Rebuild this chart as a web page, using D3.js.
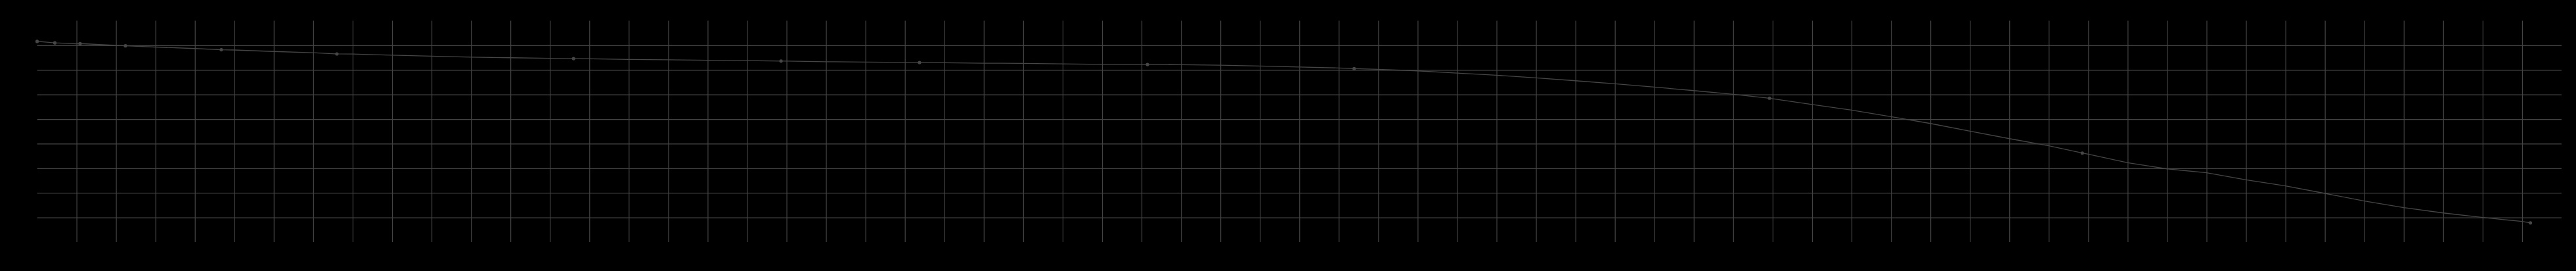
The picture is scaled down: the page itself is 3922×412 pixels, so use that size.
<!DOCTYPE html>
<html>
<head>
<meta charset="utf-8">
<script src="https://cdn.jsdelivr.net/npm/d3@7/dist/d3.min.js"></script>
<style>
  html, body { margin: 0; padding: 0; background: #000; }
  svg { display: block; }
</style>
</head>
<body>
<svg id="chart" width="3922" height="412"></svg>
<script>
// Series values (x in grid units, y in grid units)
const xValues = [0, 0.45, 0.99, 1.09, 1.99, 2.24, 2.99, 3.99, 4.67, 4.99, 5.99, 6.99, 7.6, 8.0, 8.98, 10, 11, 12, 13, 13.6, 14, 15, 16, 17, 18, 18.86, 19, 20, 21, 22, 22.37, 23, 24, 25, 26, 27, 28, 28.15, 29, 30, 31, 32, 33, 33.39, 34, 35, 36, 37, 38, 39, 40, 41, 42, 43, 43.92, 44, 45, 46, 47, 48, 49, 50, 51, 51.85, 52, 53, 54, 55, 56, 57, 58, 59, 60, 61, 62, 63, 63.21];
const yValues = [8.16, 8.10, 8.06, 8.07, 8.00, 7.98, 7.93, 7.87, 7.82, 7.81, 7.75, 7.70, 7.65, 7.645, 7.60, 7.56, 7.52, 7.495, 7.47, 7.46, 7.45, 7.425, 7.414, 7.39, 7.38, 7.36, 7.36, 7.334, 7.318, 7.307, 7.30, 7.292, 7.273, 7.265, 7.246, 7.227, 7.219, 7.219, 7.211, 7.193, 7.158, 7.12, 7.078, 7.051, 7.024, 6.96, 6.872, 6.783, 6.676, 6.559, 6.436, 6.302, 6.158, 6.008, 5.85, 5.829, 5.596, 5.366, 5.099, 4.821, 4.511, 4.206, 3.912, 3.618, 3.575, 3.227, 2.976, 2.816, 2.532, 2.281, 1.979, 1.666, 1.398, 1.184, 0.997, 0.837, 0.78];
// indices of points drawn with a circle marker
const markerIdx = [0, 1, 3, 5, 8, 12, 19, 25, 30, 37, 43, 54, 63, 76];
// grid tick values
const xTicks = d3.range(1, 64);
const yTicks = d3.range(1, 9);

const svg = d3.select("#chart");
const x = d3.scaleLinear().domain([0, 64]).range([56.5, 3900]);
const y = d3.scaleLinear().domain([0, 9]).range([368, 31.5]);

const gridColor = "#444";

// vertical grid
svg.append("g")
  .attr("transform", `translate(0,${y(0)})`)
  .call(d3.axisBottom(x).tickValues(xTicks).tickSize(-(y(0) - y(9))).tickFormat(""))
  .call(g => g.select(".domain").remove())
  .call(g => g.selectAll("line").attr("stroke", gridColor).attr("stroke-width", 1.2));

// horizontal grid
svg.append("g")
  .attr("transform", `translate(${x(0)},0)`)
  .call(d3.axisLeft(y).tickValues(yTicks).tickSize(-(x(64) - x(0))).tickFormat(""))
  .call(g => g.select(".domain").remove())
  .call(g => g.selectAll("line").attr("stroke", gridColor).attr("stroke-width", 1.2));

const data = xValues.map((v, i) => ({ x: v, y: yValues[i] }));

svg.append("path")
  .datum(data)
  .attr("fill", "none")
  .attr("stroke", "#464646")
  .attr("stroke-width", 1.3)
  .attr("d", d3.line().x(d => x(d.x)).y(d => y(d.y)));

svg.append("g")
  .selectAll("circle")
  .data(markerIdx.map(i => data[i]))
  .join("circle")
  .attr("cx", d => x(d.x))
  .attr("cy", d => y(d.y))
  .attr("r", 2.6)
  .attr("fill", "#464646");
</script>
</body>
</html>
